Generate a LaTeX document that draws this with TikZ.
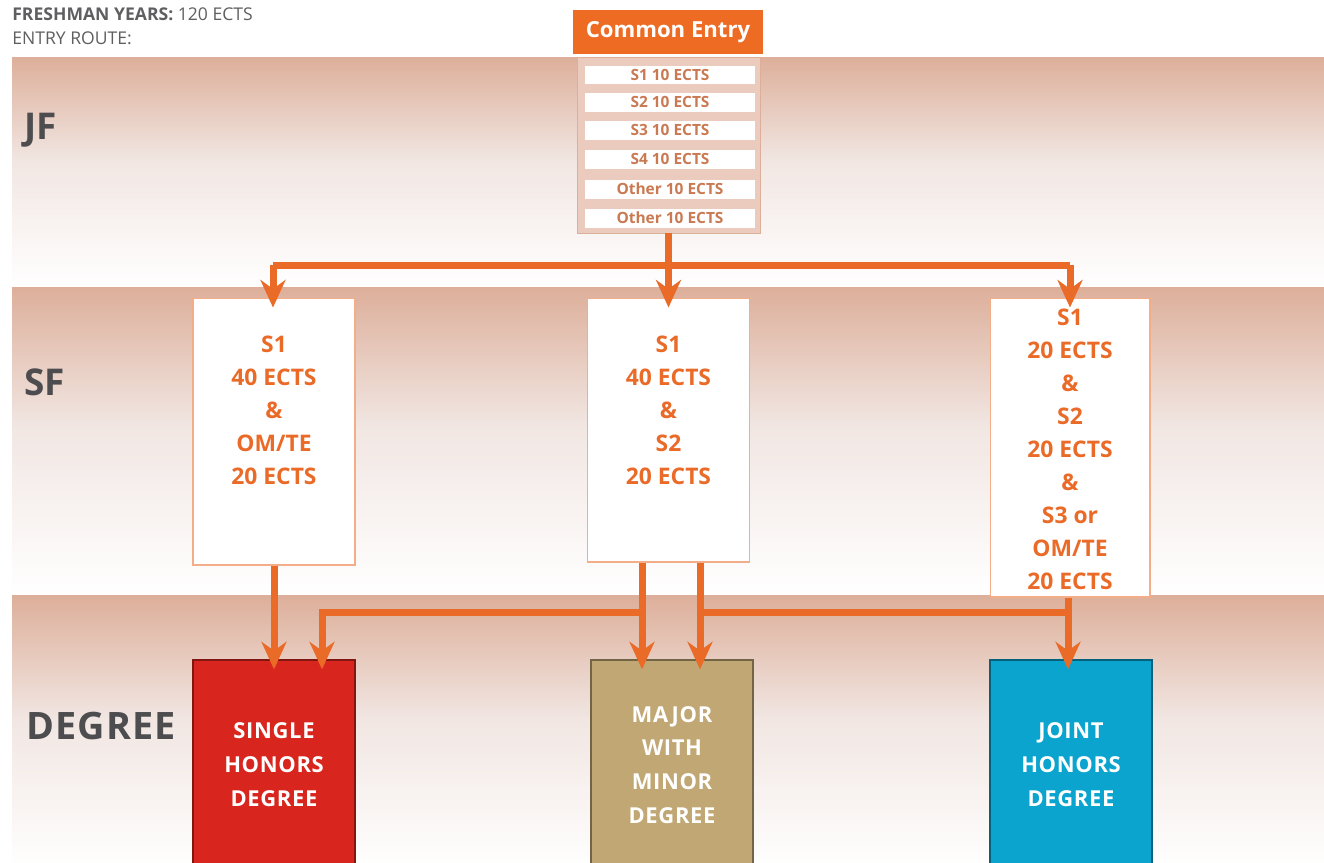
\documentclass[tikz,border=0pt]{standalone}
\usepackage{fontspec}
\setmainfont{Open Sans}
\newfontfamily\spaced[LetterSpace=3]{Open Sans}
\usetikzlibrary{positioning,arrows.meta}
\definecolor{orn}{HTML}{EA6A28}
\definecolor{hdr}{HTML}{EE6B24}
\definecolor{rowtxt}{HTML}{C97A52}
\definecolor{pnl}{HTML}{EACBBD}
\definecolor{band}{HTML}{DDAF9A}
\definecolor{bandm}{HTML}{F1E6E2}
\definecolor{grey}{HTML}{4D4D4F}
\definecolor{sred}{HTML}{D8261E}
\definecolor{stan}{HTML}{C1A774}
\definecolor{sblue}{HTML}{0AA4CE}
\begin{document}
\begin{tikzpicture}[x=0.02cm,y=-0.02cm,>={Stealth[length=0.55cm,width=0.5cm]},
  flow/.style={->,orn,line width=0.14cm,shorten >=-0.2cm},
  pipe/.style={orn,line width=0.14cm},
  lbl/.style={anchor=west,text=grey,font=\fontsize{21}{25}\selectfont\bfseries},
  row/.style={fill=white,text=rowtxt,minimum width=3.4cm,minimum height=0.38cm,inner sep=0pt,font=\fontsize{8.8}{10}\selectfont\bfseries},
  sfbox/.style={draw=orn!55,line width=0.6pt,fill=white,minimum width=3.24cm},
  sftext/.style={text=orn,align=center,inner sep=0pt,font=\fontsize{13}{18.8}\selectfont\bfseries},
  deg/.style={draw=#1!60!black,line width=0.8pt,fill=#1,text=white,align=center,minimum width=3.24cm,minimum height=4.2cm,font=\fontsize{12.5}{19.3}\selectfont\spaced\bfseries}]
   \clip (0,0) rectangle (1324,862);
   \fill[white] (0,0) rectangle (1324,862);
   % 背景の帯
   \foreach \a/\b in {57/287,287/595,595/870}{
      \pgfmathsetmacro{\c}{\a+0.45*(\b-\a)}
      \shade[top color=band,bottom color=bandm] (12,\a) rectangle (1324,\c);
      \shade[top color=bandm,bottom color=white] (12,\c-0.5) rectangle (1324,\b);
   }

   \node[anchor=west,inner sep=0pt,text=grey!90,font=\fontsize{10}{12}\selectfont] (fy) at (12,14) {\textbf{FRESHMAN YEARS:} 120 ECTS};
   \node[anchor=west,inner sep=0pt,text=grey!90,font=\fontsize{10}{12}\selectfont] (er) at (12,38) {ENTRY ROUTE:};
   \node[lbl] (jf) at (18,130) {JF};
   \node[lbl] (sf) at (18,382) {SF};
   \node[lbl,font=\fontsize{21.5}{26}\selectfont\spaced\bfseries] (dg) at (20,726) {DEGREE};

   % Common Entry
   \node[fill=hdr,text=white,minimum width=3.8cm,minimum height=0.9cm,font=\fontsize{12.6}{15}\selectfont\bfseries] (ce) at (668,32) {Common Entry};
   \node[fill=pnl,draw=band,minimum width=3.66cm,minimum height=3.52cm,inner sep=0pt] (cep) at (668.5,145) {};
   \foreach \i/\y/\t in {1/75/S1 10 ECTS,2/102/S2 10 ECTS,3/130/S3 10 ECTS,4/159/S4 10 ECTS,5/189/Other 10 ECTS,6/218/Other 10 ECTS}
      \node[row] (r\i) at (670,\y) {\t};

   % SF
   \node[sfbox,minimum height=5.34cm] (sf1) at (274,431.5) {};
   \node[sfbox,minimum height=5.28cm] (sf2) at (668.5,430) {};
   \node[sfbox,minimum width=3.2cm,minimum height=5.98cm] (sf3) at (1070,447.5) {};
   \node[sftext,below=0.76cm of sf1.north] (sf1t) {S1\\40 ECTS\\\&\\OM/TE\\20 ECTS};
   \node[sftext,below=0.76cm of sf2.north] (sf2t) {S1\\40 ECTS\\\&\\S2\\20 ECTS};
   \node[sftext,below=0.22cm of sf3.north] (sf3t) {S1\\20 ECTS\\\&\\S2\\20 ECTS\\\&\\S3 or\\OM/TE\\20 ECTS};

   % DEGREE
   \node[deg=sred] (single) at (274,765) {SINGLE\\HONORS\\DEGREE};
   \node[deg=stan] (major) at (672,765) {MAJOR\\WITH\\MINOR\\DEGREE};
   \node[deg=sblue] (joint) at (1071,765) {JOINT\\HONORS\\DEGREE};

   % 矢印 (上)
   \coordinate (jl) at (273,265);
   \coordinate (jr) at (1070,265);
   \draw[pipe] (jl) -- (jr);
   \draw[flow] (cep.south) -- (sf2.north);
   \draw[flow] (jl) -- (jl |- sf1.north);
   \draw[flow] (jr) -- (jr |- sf3.north);

   % 矢印 (下)
   \coordinate (m1) at (642,612);
   \coordinate (m2) at (700,612);
   \coordinate (s2) at (322,612);
   \coordinate (j3) at (1068,612);
   \draw[flow] (sf1.south) -- (single.north);
   \draw[flow] (sf2.south -| m1) -- (m1) -- (major.north -| m1);
   \draw[flow] (sf2.south -| m2) -- (m2) -- (major.north -| m2);
   \draw[flow] (m1) -- (s2) -- (single.north -| s2);
   \draw[pipe] (m2) -- (j3);
   \draw[flow] (sf3.south -| j3) -- (joint.north -| j3);
\end{tikzpicture}
\end{document}
